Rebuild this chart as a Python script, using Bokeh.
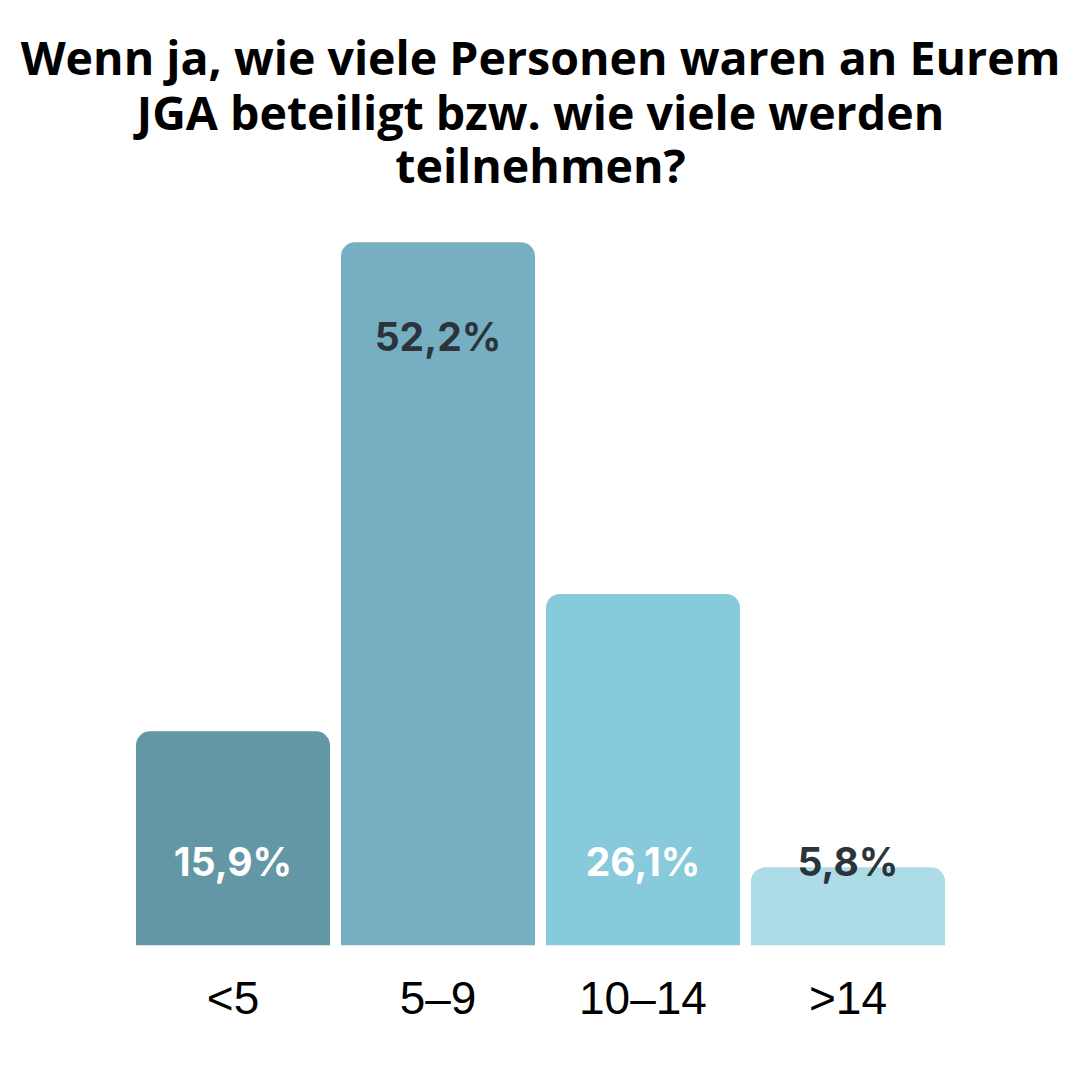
from bokeh.plotting import figure
from bokeh.models import Range1d, Label, ColumnDataSource, FixedTicker
from bokeh.core.properties import value
from bokeh.embed import file_html
from bokeh.resources import INLINE

# ---- data ----
categories = ["<5", "5–9", "10–14", ">14"]
percentages = [15.9, 52.2, 26.1, 5.8]
label_texts = ["15,9%", "52,2%", "26,1%", "5,8%"]
bar_colors = ["#6397A5", "#76AFC2", "#86CADC", "#ADDCE7"]
label_colors = ["#FFFFFF", "#2B343B", "#FFFFFF", "#2B343B"]
title_lines = ["Wenn ja, wie viele Personen waren an Eurem",
               "JGA beteiligt bzw. wie viele werden",
               "teilnehmen?"]

# ---- layout constants (pixels) ----
W, H = 1064, 1064
frame_h = 945          # frame spans the full width, from the top down to the bar baseline
px_per_unit_y = 13.47  # pixels per percentage point
px_per_slot = 205      # pixels per category slot
first_center = 232.5   # pixel position of the first category centre

idx = list(range(len(categories)))
x_start = -first_center / px_per_slot
x_end = (W - first_center) / px_per_slot

label_y = [v - 7.0 if v > 30 else 6.25 for v in percentages]

src = ColumnDataSource(dict(x=idx, val=percentages, color=bar_colors,
                            lab=label_texts, labcol=label_colors, laby=label_y))

p = figure(width=W, height=H,
           x_range=Range1d(x_start, x_end),
           y_range=Range1d(0, frame_h / px_per_unit_y),
           output_backend="svg", toolbar_location=None,
           min_border_left=0, min_border_right=0,
           min_border_top=0, min_border_bottom=H - frame_h)

p.vbar(x="x", top="val", width=194 / px_per_slot, color="color", source=src,
       line_color=None, border_radius=(14, 14, 0, 0))

p.text(x="x", y="laby", text="lab", text_color="labcol", source=src,
       text_font=value("Inter"), text_font_style="bold", text_font_size="39px",
       text_align="center", text_baseline="alphabetic")

# title lines (screen units relative to the frame's bottom-left)
baselines = [56, 111, 164]
for line, b in zip(title_lines, baselines):
    p.add_layout(Label(x=540, y=frame_h - b,
                       x_units="screen", y_units="screen", text=line,
                       text_font="Open Sans", text_font_style="bold",
                       text_font_size="46.5px", text_color="#000000",
                       text_align="center", text_baseline="alphabetic"))

p.yaxis.visible = False
p.xgrid.visible = False
p.ygrid.visible = False
p.outline_line_color = None
p.xaxis.ticker = FixedTicker(ticks=idx)
p.xaxis.major_label_overrides = {i: c for i, c in zip(idx, categories)}
p.xaxis.axis_line_color = None
p.xaxis.major_tick_line_color = None
p.xaxis.minor_tick_line_color = None
p.xaxis.major_label_text_font = "Liberation Sans"
p.xaxis.major_label_text_font_size = "46px"
p.xaxis.major_label_text_color = "#000000"
p.xaxis.major_label_standoff = 20
p.background_fill_color = "white"
p.border_fill_color = "white"

open("out.html", "w").write(file_html(p, INLINE))
